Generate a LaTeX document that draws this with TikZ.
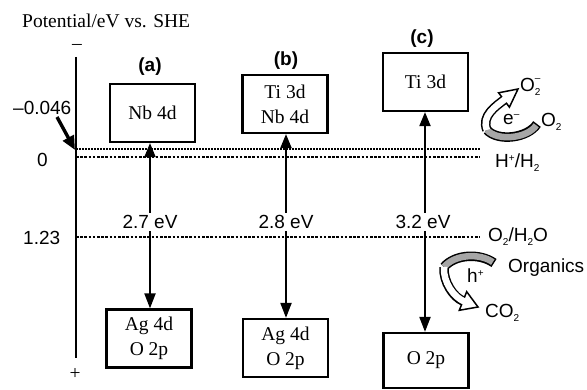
\documentclass[tikz,border=0pt]{standalone}
\usepackage{fontspec}
\setmainfont{Liberation Serif}
\setsansfont{Liberation Sans}
\usetikzlibrary{arrows.meta}
\newcommand\bxfont{\fontsize{19.5}{25}\selectfont}
\newcommand\serl{\rmfamily\fontsize{19.5}{23}\selectfont}
\newcommand\sfl{\sffamily\fontsize{19}{22}\selectfont}
\newcommand\sfb{\sffamily\bfseries\fontsize{19}{22}\selectfont}
\newcommand\lowt[1]{\raisebox{-3.5pt}{\fontsize{10}{10}\selectfont #1}}
\newcommand\upt[2]{\raisebox{#1}{\fontsize{10}{10}\selectfont #2}}
\begin{document}
\begin{tikzpicture}[x=1pt,y=-1pt,
  lvl/.style={draw, line width=2.2pt, minimum width=85pt, minimum height=58pt, inner sep=0pt, align=center, font=\bxfont},
  gaparrow/.style={line width=2pt, {Triangle[length=14pt,width=11pt]}-{Triangle[length=15pt,width=11pt]}},
  evlbl/.style={fill=white, inner sep=2.5pt, font=\sfl},
  thindot/.style={line width=1.5pt, dash pattern=on 1.5pt off 1.5pt},
  thickdot/.style={line width=2.8pt, dash pattern=on 2.6pt off 1.6pt},
  lbl/.style={font=\sfl, inner sep=0pt},
  tag/.style={font=\sfb, inner sep=0pt},
  serlbl/.style={font=\serl, inner sep=0pt},
  bandout/.style={line width=9.5pt},
  bandgray/.style={line width=6.5pt, black!35},
  bandwhite/.style={line width=6.5pt, white},
  headshape/.style={line width=1.5pt, fill=white, line join=miter}]
\useasboundingbox (0,0) rectangle (587,390);

% title and axis
\node[serlbl, anchor=base west] (title) at (22,28) {Potential/eV vs. SHE};
\node[serlbl] (minus) at (77,47) {–};
\node[serlbl] (plus) at (75,374) {+};
\coordinate (axtop) at (76,57);
\coordinate (axbot) at (76,358);
\draw[line width=2.4pt] (axtop) -- (axbot);

% axis labels
\node[lbl, anchor=base west] (neg) at (13,115) {–0.046};
\node[lbl, anchor=base west] (zero) at (37,167) {0};
\node[lbl, anchor=base west] (onetwo) at (23,245) {1.23};
\coordinate (negs) at (57,117);
\coordinate (nege) at (75,150);
\draw[line width=3.4pt, -{Triangle[length=14pt,width=12pt]}] (negs) -- (nege);

% boxes
\node[lvl] (cbA) at (152.5,113) {Nb 4d};
\node[lvl] (vbA) at (149,338.5) {Ag 4d\\O 2p};
\node[lvl] (cbB) at (285,104) {Ti 3d\\Nb 4d};
\node[lvl] (vbB) at (285.5,348) {Ag 4d\\O 2p};
\node[lvl] (cbC) at (425.5,82) {Ti 3d};
\node[lvl, minimum height=55pt] (vbC) at (426,360.5) {O 2p};

% tags
\node[tag] (ta) at (150,67) {(a)};
\node[tag] (tb) at (286,61) {(b)};
\node[tag] (tc) at (422,39) {(c)};

% gap arrows
\coordinate (xa) at (150,0);
\coordinate (xb) at (286,0);
\coordinate (xc) at (425,0);
\draw[gaparrow] (cbA.south -| xa) -- (vbA.north -| xa);
\draw[gaparrow] (cbB.south -| xb) -- (vbB.north -| xb);
\draw[gaparrow] (cbC.south -| xc) -- (vbC.north -| xc);
\node[evlbl] (gA) at (150,222) {2.7 eV};
\node[evlbl] (gB) at (286,222) {2.8 eV};
\node[evlbl] (gC) at (423,222) {3.2 eV};

% dotted levels
\coordinate (d1s) at (76,149); \coordinate (d1e) at (480,149);
\coordinate (d2s) at (76,157); \coordinate (d2e) at (480,157);
\coordinate (d3s) at (76,237); \coordinate (d3e) at (480,237);
\draw[thindot] (d1s) -- (d1e);
\draw[thickdot] (d2s) -- (d2e);
\draw[thickdot] (d3s) -- (d3e);

% right labels
\node[lbl, anchor=base west] (o2m) at (520,92) {O\rlap{\upt{10pt}{–}}\lowt{2}};
\node[lbl, anchor=base west] (o2r) at (541,127) {O\lowt{2}};
\node[lbl, anchor=base west] (hh) at (495,168) {H\upt{6.5pt}{+}/H\lowt{2}};
\node[lbl, anchor=base west] (oh) at (488,242) {O\lowt{2}/H\lowt{2}O};
\node[lbl, anchor=base west] (org) at (508,273) {Organics};
\node[lbl, anchor=base west] (co2) at (485,318) {CO\lowt{2}};

% top curved arrow (reduction)
\coordinate (tg1) at (537,124);
\coordinate (tg2) at (487,130);
\coordinate (th) at (504,100);
\draw[bandout] (tg1) .. controls (528,138) and (498,142) .. (tg2);
\draw[bandout] (tg2) .. controls (481,116) and (496,106) .. (th);
\draw[bandgray, shorten <=1.5pt] (tg1) .. controls (528,138) and (498,142) .. (tg2);
\draw[headshape] (509.4,107.2) -- (518,89) -- (498.6,92.8) -- cycle;
\draw[bandwhite, shorten >=-2pt] (tg2) .. controls (481,116) and (496,106) .. (th);
\node[lbl, anchor=base west] (em) at (503,125) {e\upt{7pt}{–}};

% bottom curved arrow (oxidation)
\coordinate (bg1) at (494,263);
\coordinate (bg2) at (444,267);
\coordinate (bh) at (463,301);
\draw[bandout] (bg1) .. controls (480,253) and (455,254) .. (bg2);
\draw[bandout] (bg2) .. controls (443,282) and (453.7,297.4) .. (bh);
\draw[bandgray, shorten <=1.5pt] (bg1) .. controls (480,253) and (455,254) .. (bg2);
\draw[headshape] (466.7,291.7) -- (478,307) -- (459.3,310.3) -- cycle;
\draw[bandwhite, shorten >=-2pt] (bg2) .. controls (443,282) and (453.7,297.4) .. (bh);
\node[lbl, anchor=base west] (hp) at (467,283) {h\upt{6.5pt}{+}};
\end{tikzpicture}
\end{document}
